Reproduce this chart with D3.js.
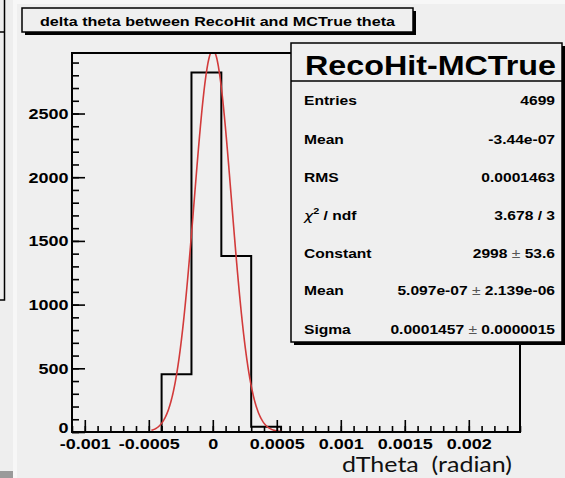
<!DOCTYPE html>
<html>
<head>
<meta charset="utf-8">
<script src="https://cdn.jsdelivr.net/npm/d3@7"></script>
<style>
  html, body { margin: 0; padding: 0; background: #f7f7f7; }
  svg { display: block; }
</style>
</head>
<body>
<svg id="chart" width="565" height="478"></svg>
<script>
// Histogram of dTheta = RecoHit - MCTrue (radian), 15 bins over [-0.0011, 0.0024]
const binLow = -0.0011;
const binHigh = 0.0024;
const binCounts = [0, 0, 0, 453, 2822, 1382, 42, 0, 0, 0, 0, 0, 0, 0, 0];

// Gaussian fit parameters: Constant, Mean, Sigma
const fitParams = [2998, 5.097e-07, 0.0001457];
const fitRange = [-0.00048, 0.00054];

// Axis ticks and labels
const xTickValues = [-0.001, -0.0005, 0, 0.0005, 0.001, 0.0015, 0.002];
const xTickLabels = ["-0.001", "-0.0005", "0", "0.0005", "0.001", "0.0015", "0.002"];
const yTickValues = [0, 500, 1000, 1500, 2000, 2500];
const yTickLabels = ["0", "500", "1000", "1500", "2000", "2500"];
const yMax = 2975;

// Statistics box
const statsTitle = "RecoHit-MCTrue";
const statsLabels = ["Entries", "Mean", "RMS", "chi2", "Constant", "Mean", "Sigma"];
const statsValues = ["4699", "-3.44e-07", "0.0001463", "3.678 / 3", "2998 ± 53.6", "5.097e-07 ± 2.139e-06", "0.0001457 ± 0.0000015"];

const histTitle = "delta theta between RecoHit and MCTrue theta";
const xAxisTitle = "dTheta  (radian)";

const svg = d3.select("#chart");
const FONT = "'Liberation Sans', Arial, Helvetica, sans-serif";
const SX = 1.2; // horizontal stretch of the ROOT lettering

// Panels / background
svg.append("rect").attr("x", 0).attr("y", 0).attr("width", 565).attr("height", 478).attr("fill", "#f7f7f7");
svg.append("rect").attr("x", 0).attr("y", 0).attr("width", 13).attr("height", 478).attr("fill", "#eeeeee");
svg.append("rect").attr("x", 17).attr("y", 4).attr("width", 548).attr("height", 474).attr("fill", "#efefef");
svg.append("rect").attr("x", 0).attr("y", 471).attr("width", 13).attr("height", 7).attr("fill", "#9a9a9a");
// edge of the neighbouring pad
svg.append("path").attr("d", "M0,32H4.5V0M4.5,32V300H0").attr("fill", "none").attr("stroke", "#000").attr("stroke-width", 1.5);

// Frame geometry
const fx0 = 72, fx1 = 520, fy0 = 53, fy1 = 432;
const x = d3.scaleLinear().domain([binLow, binHigh]).range([fx0, fx1]);
const y = d3.scaleLinear().domain([0, yMax]).range([fy1, fy0]);

svg.append("defs").append("clipPath").attr("id", "frameClip")
  .append("rect").attr("x", fx0).attr("y", fy0).attr("width", fx1 - fx0).attr("height", fy1 - fy0);

// Histogram outline (step)
const nb = binCounts.length;
const bw = (binHigh - binLow) / nb;
const steps = [];
binCounts.forEach((c, i) => {
  steps.push([binLow + i * bw, c]);
  steps.push([binLow + (i + 1) * bw, c]);
});
const stepLine = d3.line().x(d => x(d[0])).y(d => y(d[1]));
svg.append("path")
  .attr("d", stepLine(steps))
  .attr("fill", "none").attr("stroke", "#000").attr("stroke-width", 2)
  .attr("clip-path", "url(#frameClip)");

// Gaussian fit curve
const [cst, mu, sig] = fitParams;
const fitPts = d3.range(0, 301).map(k => {
  const xv = fitRange[0] + (fitRange[1] - fitRange[0]) * k / 300;
  return [xv, cst * Math.exp(-0.5 * ((xv - mu) / sig) ** 2)];
});
svg.append("path")
  .attr("d", d3.line().x(d => x(d[0])).y(d => y(d[1]))(fitPts))
  .attr("fill", "none").attr("stroke", "#d23a3a").attr("stroke-width", 1.6)
  .attr("clip-path", "url(#frameClip)");

// Frame
svg.append("rect").attr("x", fx0).attr("y", fy0).attr("width", fx1 - fx0).attr("height", fy1 - fy0)
  .attr("fill", "none").attr("stroke", "#000").attr("stroke-width", 2);

// X axis: minor ticks, major ticks with labels
const xMinor = d3.range(-11, 25).map(k => k * 0.0001);
svg.append("g").attr("transform", `translate(0,${fy1})`)
  .call(d3.axisBottom(x).tickValues(xMinor).tickSize(-6).tickFormat(""))
  .call(g => g.select(".domain").remove())
  .call(g => g.selectAll("line").attr("stroke", "#000").attr("stroke-width", 1.6));
const xAxis = svg.append("g").attr("transform", `translate(0,${fy1})`)
  .call(d3.axisBottom(x).tickValues(xTickValues).tickSize(-12).tickPadding(6)
    .tickFormat((d, i) => xTickLabels[i]))
  .call(g => g.select(".domain").remove());
xAxis.selectAll("line").attr("stroke", "#000").attr("stroke-width", 1.6);
xAxis.selectAll("text").attr("fill", "#000").attr("font-family", FONT).attr("font-weight", "bold")
  .attr("font-size", 15).attr("transform", `scale(${SX},1)`);

// Y axis
const yMinor = d3.range(0, 30).map(k => k * 100);
svg.append("g").attr("transform", `translate(${fx0},0)`)
  .call(d3.axisLeft(y).tickValues(yMinor).tickSize(-7).tickFormat(""))
  .call(g => g.select(".domain").remove())
  .call(g => g.selectAll("line").attr("stroke", "#000").attr("stroke-width", 1.6));
const yAxis = svg.append("g").attr("transform", `translate(${fx0},0)`)
  .call(d3.axisLeft(y).tickValues(yTickValues).tickSize(-13).tickPadding(3)
    .tickFormat((d, i) => yTickLabels[i]))
  .call(g => g.select(".domain").remove());
yAxis.selectAll("line").attr("stroke", "#000").attr("stroke-width", 1.6);
yAxis.selectAll("text").attr("fill", "#000").attr("font-family", FONT).attr("font-weight", "bold")
  .attr("font-size", 15).attr("transform", `scale(${SX},1)`);
// the zero label sits a little above the corner
yAxis.selectAll("text").filter(d => d === 0).attr("dy", "0.02em");

// Boxed text helpers
function shadowBox(bx, by, bw, bh) {
  svg.append("rect").attr("x", bx + 3).attr("y", by + 3).attr("width", bw).attr("height", bh).attr("fill", "#000");
  svg.append("rect").attr("x", bx).attr("y", by).attr("width", bw).attr("height", bh)
    .attr("fill", "#efefef").attr("stroke", "#000").attr("stroke-width", 1.5);
}
function label(tx, ty, str, size, anchor) {
  const t = svg.append("text")
    .attr("transform", `translate(${tx},${ty}) scale(${SX},1)`)
    .attr("font-family", FONT).attr("font-weight", "bold").attr("font-size", size)
    .attr("text-anchor", anchor || "start").attr("fill", "#000");
  if (str !== null) t.text(str);
  return t;
}
function fitted(tx, ty, str, size, len) {
  return svg.append("text").attr("x", tx).attr("y", ty)
    .attr("font-family", FONT).attr("font-weight", "bold").attr("font-size", size)
    .attr("textLength", len).attr("lengthAdjust", "spacingAndGlyphs")
    .attr("fill", "#000").text(str);
}

// Histogram title
shadowBox(22, 8, 391, 24);
fitted(40, 26, histTitle, 13.5, 355);

// Statistics box
shadowBox(291, 43, 271, 299);
svg.append("line").attr("x1", 291).attr("x2", 562).attr("y1", 81).attr("y2", 81)
  .attr("stroke", "#000").attr("stroke-width", 1.5);
fitted(305, 75, statsTitle, 28, 251);

const rowY = [100.7, 139.3, 177.7, 215.7, 253.3, 290.7, 329.3];
statsLabels.forEach((lab, i) => {
  const by = rowY[i] + 4.5;
  if (lab === "chi2") {
    const t = label(304, by, null, 13, "start");
    t.append("tspan").attr("font-family", "'DejaVu Sans', sans-serif").attr("font-weight", "normal").attr("font-style", "italic").text("χ");
    t.append("tspan").attr("font-size", 9).attr("dy", -6).text("2");
    t.append("tspan").attr("dy", 6).text(" / ndf");
  } else {
    label(304, by, lab, 13, "start");
  }
  const parts = statsValues[i].split("±");
  const v = label(555, by, null, 13, "end");
  parts.forEach((p, j) => {
    if (j > 0) v.append("tspan").attr("font-weight", "normal").attr("fill", "#555").text("±");
    v.append("tspan").text(p);
  });
});

// Axis title
svg.append("text").attr("x", 342).attr("y", 472)
  .attr("font-family", "Lato, 'Open Sans', sans-serif").attr("font-size", 21)
  .attr("textLength", 170).attr("lengthAdjust", "spacingAndGlyphs")
  .style("white-space", "pre")
  .attr("fill", "#111").text(xAxisTitle);
</script>
</body>
</html>
